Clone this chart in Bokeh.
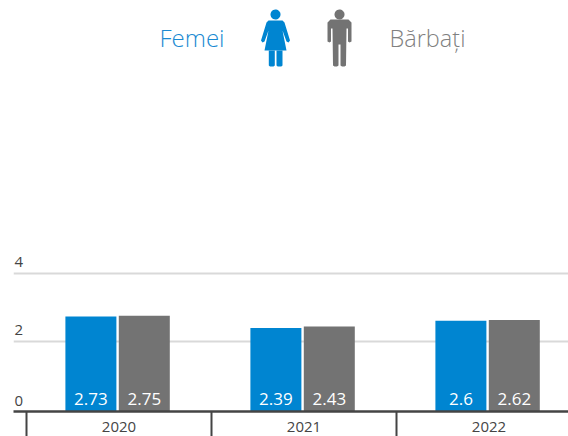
import numpy as np
from bokeh.plotting import figure
from bokeh.models import Range1d, FixedTicker, PolyAnnotation, Label
from bokeh.core.properties import value
from bokeh.embed import file_html
from bokeh.resources import INLINE

categories = ["2020", "2021", "2022"]
femei = [2.73, 2.39, 2.6]
barbati = [2.75, 2.43, 2.62]
y_ticks = [0, 2, 4]
y_tick_labels = ["0", "2", "4"]
grid_ticks = [2, 4]
legend_labels = ["Femei", "Bărbați"]

BLUE = "#0085d1"
GREY = "#737373"
DARK = "#444444"
FONT = "Open Sans"
LIGHT_FONT = "Open Sans Light, Open Sans"

WIDTH, HEIGHT = 568, 436
LEFT = 13          # frame left inside the canvas
BOTTOM = 25
STEP = 185.0       # px per category
PX_Y = 34.0        # px per unit
ZERO_Y = HEIGHT - BOTTOM - 2.3   # canvas px of value 0

x0 = (26 - LEFT) / STEP
x_range = Range1d(-0.5 - x0, -0.5 - x0 + (WIDTH - LEFT) / STEP)
y_range = Range1d(-(HEIGHT - BOTTOM - ZERO_Y) / PX_Y, ZERO_Y / PX_Y)

p = figure(width=WIDTH, height=HEIGHT, output_backend="svg", toolbar_location=None,
           x_range=x_range, y_range=y_range, min_border_left=LEFT, min_border_right=0,
           min_border_top=0, min_border_bottom=BOTTOM, outline_line_color=None,
           background_fill_color="white", border_fill_color="white")

pos = list(range(len(categories)))
bar_w = 51 / STEP
blue_x = [i - 28.1 / STEP for i in pos]
grey_x = [i + 25.3 / STEP for i in pos]
base = y_range.start

p.xgrid.visible = False
p.ygrid.ticker = FixedTicker(ticks=grid_ticks)
p.ygrid.grid_line_color = "#d9d9d9"
p.ygrid.grid_line_width = 2

p.vbar(x=blue_x, top=femei, bottom=base, width=bar_w, fill_color=BLUE, line_color=None)
p.vbar(x=grey_x, top=barbati, bottom=base, width=bar_w, fill_color=GREY, line_color=None)

for xs, vals in ((blue_x, femei), (grey_x, barbati)):
    p.text(x=xs, y=[0] * len(xs), text=[str(v) for v in vals], text_color="white",
           text_font=value(FONT), text_font_size="17px", text_align="center",
           text_baseline="alphabetic", y_offset=-10.5)

ax = p.xaxis[0]
ax.ticker = FixedTicker(ticks=pos, minor_ticks=[i - 0.5 for i in pos] + [pos[-1] + 0.5])
ax.major_label_overrides = {i: c for i, c in zip(pos, categories)}
ax.major_tick_out = 0
ax.major_tick_in = 0
ax.minor_tick_out = 25
ax.minor_tick_in = 0
ax.minor_tick_line_color = DARK
ax.minor_tick_line_width = 2
ax.axis_line_color = DARK
ax.axis_line_width = 2.5
ax.major_label_text_font = FONT
ax.major_label_text_font_size = "15px"
ax.major_label_text_color = "#444444"
ax.major_label_standoff = -15

p.yaxis.visible = False
p.text(x=[x_range.start] * 3, y=y_ticks, text=y_tick_labels, x_offset=1, y_offset=[-8.3, -11, -11],
       text_color="#444444", text_font=value(FONT), text_font_size="15px",
       text_align="left", text_baseline="alphabetic")

# legend texts
p.add_layout(Label(x=159, y=37, x_units="canvas", y_units="canvas",
                   text=legend_labels[0], text_color="#1a8ad2", text_font=LIGHT_FONT,
                   text_font_size="24px", text_baseline="alphabetic"))
p.add_layout(Label(x=389, y=37, x_units="canvas", y_units="canvas",
                   text=legend_labels[1], text_color="#808080", text_font=LIGHT_FONT,
                   text_font_size="23.5px", text_baseline="alphabetic"))

def poly(pts, color):
    a = np.array(pts, float)
    p.add_layout(PolyAnnotation(xs=list(a[:, 0]), ys=list(a[:, 1]), xs_units="canvas", ys_units="canvas",
                                fill_color=color, fill_alpha=1, line_color=None))

def head(cx, cy, r, color):
    t = np.linspace(0, 2 * np.pi, 32)
    poly(np.c_[cx + r * np.cos(t), cy + r * np.sin(t)], color)

# woman icon
head(275, 14, 5, BLUE)
poly([(268, 20), (282, 20), (284, 22), (289.5, 40), (288, 42), (286, 41), (282, 30), (286, 50), (264, 50), (268, 30), (264, 41), (262, 42), (260.5, 40), (266, 22)], BLUE)
poly([(268.3, 50), (274.3, 50), (274.3, 65), (273, 66), (269.5, 66), (268.3, 65)], BLUE)
poly([(276, 50), (282, 50), (282, 65), (280.8, 66), (277.2, 66), (276, 65)], BLUE)

# man icon
head(339, 14, 5, GREY)
poly([(330, 19), (348, 19), (351, 22), (351, 41), (349, 42), (347.5, 41), (347.5, 28), (346, 28), (345.5, 65), (344, 66), (341.5, 66), (340, 65), (340, 44), (338, 44), (338, 65), (336.5, 66), (334, 66), (332.5, 65), (332, 28), (330.5, 28), (330.5, 41), (329, 42), (327, 41), (327, 22)], GREY)

open("out.html", "w").write(file_html(p, INLINE))
